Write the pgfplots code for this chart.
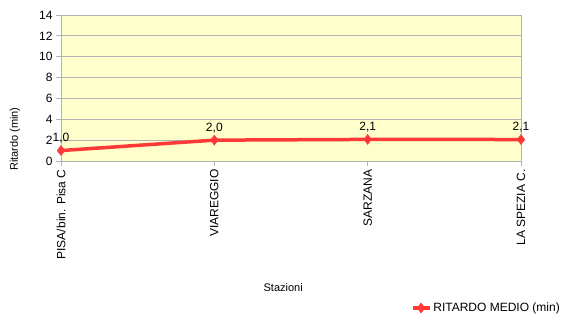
\documentclass[border=0pt]{standalone}
\usepackage{fontspec}
\setmainfont{Liberation Sans}
\usepackage{pgfplots}
\pgfplotsset{compat=1.18}
\usetikzlibrary{calc}
\definecolor{bgyellow}{RGB}{255,255,204}
\definecolor{gridgray}{RGB}{179,179,179}
\definecolor{linered}{RGB}{255,56,56}
\begin{document}
\begin{tikzpicture}
\begin{axis}[
  scale only axis,
  width=460pt, height=146pt,
  xmin=0, xmax=3, ymin=0, ymax=14,
  xtick={0,1,2,3},
  xticklabels={PISA/bin. Pisa C,VIAREGGIO,SARZANA,LA SPEZIA C.},
  ytick={0,2,...,14},
  tick pos=left,
  x tick label style={rotate=90, anchor=east, font=\fontsize{12}{14}\selectfont},
  y tick label style={font=\fontsize{12}{14}\selectfont},
  /pgf/number format/assume math mode=true,
  axis background/.style={fill=bgyellow},
  ymajorgrids, grid style={gridgray, line width=0.8pt},
  axis line style={gridgray, line width=0.8pt},
  tick style={gridgray, line width=0.8pt},
  tick align=outside, major tick length=5pt,
  xlabel={Stazioni},
  ylabel={Ritardo (min)},
  xlabel style={at={(axis description cs:0.483,-0.87)}, anchor=center, font=\fontsize{11}{13}\selectfont},
  ylabel style={at={(axis description cs:-0.1,0.15)}, anchor=center, font=\fontsize{11}{13}\selectfont},
  legend style={at={(1.0957,-1.0068)}, anchor=east, draw=none, fill=none, font=\fontsize{12}{14}\selectfont},
  legend cell align=left,
  nodes near coords,
  nodes near coords style={text=black, font=\fontsize{12}{14}\selectfont, yshift=4pt, /pgf/number format/fixed, /pgf/number format/fixed zerofill, /pgf/number format/precision=1, /pgf/number format/use comma},
]
\addplot[color=linered, line width=3.5pt, mark=diamond*, mark size=5pt, mark options={line width=0.5pt, fill=linered}]
  coordinates {(0,1.0) (1,2.0) (2,2.07) (3,2.06)};
\addlegendentry{RITARDO MEDIO (min)}
\coordinate (bl) at (rel axis cs:0,0);
\end{axis}
\pgfresetboundingbox
\path[use as bounding box] ($(bl)+(-61pt,-157pt)$) rectangle ($(bl)+(506pt,161pt)$);
\end{tikzpicture}
\end{document}
